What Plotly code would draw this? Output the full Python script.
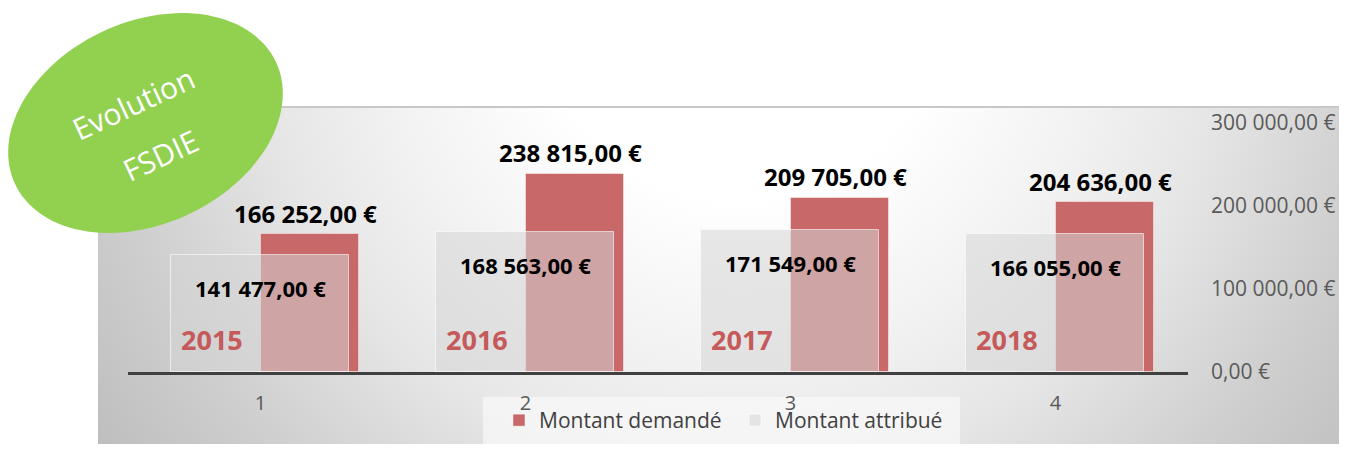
import numpy as np
import plotly.graph_objects as go

# la page ajoute 8 px de marge autour du graphique : on travaille en pixels
# "écran" (0..1347 x 0..452) et on convertit
OFF = 8
W, H = 1347 - 2 * OFF, 452 - 2 * OFF

# données
categories = [1, 2, 3, 4]
annees = ["2015", "2016", "2017", "2018"]
montant_demande = [166252, 238815, 209705, 204636]
montant_attribue = [141477, 168563, 171549, 166055]
y_ticks = [0, 100000, 200000, 300000]
y_ticktext = ["0,00 €", "100 000,00 €", "200 000,00 €", "300 000,00 €"]

ROUGE = "#c86868"
GRIS = "rgba(213,213,213,0.55)"
POLICE = "Open Sans"


def euro(v: float) -> str:
    s = f"{v:,.2f}".replace(",", " ").replace(".", ",")
    return s + " €"


def px_x(p):  # pixel écran -> fraction papier
    return (p - OFF) / W


def px_y(p):
    return 1 - (p - OFF) / H


def rect(x0, y0, x1, y1, **kw):
    return go.Scatter(x=[x0, x1, x1, x0, x0], y=[y0, y0, y1, y1, y0],
                      mode="lines", fill="toself", line=dict(width=0),
                      hoverinfo="skip", showlegend=False,
                      xaxis="x", yaxis="y", **kw)


fig = go.Figure()

# fond dégradé radial centré en haut du cadre, puis masques blancs
fig.add_trace(rect(-60, -800, 1540, 800, fillgradient=dict(type="radial", colorscale=[
    [0.0, "#ffffff"], [0.25, "#ffffff"], [0.45, "#f2f2f2"], [0.6, "#e6e6e6"],
    [0.8, "#cfcfcf"], [1.0, "#bcbcbc"]])))
fig.add_trace(rect(0, 0, 1347, 106, fillcolor="white"))
fig.add_trace(rect(0, 0, 98, 452, fillcolor="white"))
fig.add_trace(go.Scatter(
    x=[98, 1347], y=[107, 107], mode="lines",
    line=dict(color="#c8c8c8", width=2),
    hoverinfo="skip", showlegend=False, xaxis="x", yaxis="y"))
# cadre de la légende
fig.add_trace(rect(483, 397, 960, 444, fillcolor="rgba(250,250,250,0.7)"))

# barres
fig.add_trace(go.Bar(
    x=categories, y=montant_demande, name="Montant demandé",
    width=0.37, offset=0.0,
    marker=dict(color=ROUGE, line=dict(color="rgba(255,255,255,0.45)", width=1)),
    xaxis="x2", yaxis="y2"))
fig.add_trace(go.Bar(
    x=categories, y=montant_attribue, name="Montant attribué",
    width=0.669, offset=-0.336,
    marker=dict(color=GRIS, line=dict(color="rgba(255,255,255,0.6)", width=1)),
    xaxis="x2", yaxis="y2"))

# étiquettes de valeurs
for c, v in zip(categories, montant_demande):
    fig.add_annotation(x=c + 0.17, y=v, xref="x2", yref="y2", text=euro(v),
                       showarrow=False, yanchor="middle", yshift=21,
                       font=dict(family=POLICE, size=24, color="black", weight="bold"))
for c, v in zip(categories, montant_attribue):
    fig.add_annotation(x=c, y=v, xref="x2", yref="y2", text=euro(v),
                       showarrow=False, yanchor="middle", yshift=-33,
                       font=dict(family=POLICE, size=22, color="black", weight="bold"))
for c, a in zip(categories, annees):
    fig.add_annotation(x=c, y=0, xref="x2", yref="y2", text=a,
                       showarrow=False, yanchor="middle", xshift=-49, yshift=33,
                       font=dict(family=POLICE, size=27, color="#c55a5a", weight="bold"))

# ellipse verte "Evolution FSDIE"
cx, cy, a, b, th = 145.5, 123, 144, 101, np.radians(25)
t = np.linspace(0, 2 * np.pi, 120)
ex = cx + a * np.cos(t) * np.cos(th) - b * np.sin(t) * np.sin(th)
ey = cy - (a * np.cos(t) * np.sin(th) + b * np.sin(t) * np.cos(th))
path = "M " + " L ".join(f"{x:.1f},{y:.1f}" for x, y in zip(ex, ey)) + " Z"
fig.add_shape(type="path", path=path, xref="x", yref="y",
              fillcolor="#92d050", line=dict(width=0), layer="above")
fig.add_annotation(x=133, y=103, xref="x", yref="y", text="Evolution",
                   showarrow=False, textangle=-25,
                   font=dict(family=POLICE, size=30, color="white"))
fig.add_annotation(x=160, y=155, xref="x", yref="y", text="FSDIE",
                   showarrow=False, textangle=-25,
                   font=dict(family=POLICE, size=30, color="white"))

fig.update_layout(
    width=W, height=H,
    margin=dict(l=0, r=0, t=0, b=0, autoexpand=False),
    paper_bgcolor="white", plot_bgcolor="rgba(0,0,0,0)",
    barmode="overlay", bargap=0,
    font=dict(family=POLICE, color="#595959"),
    xaxis=dict(domain=[0, 1], range=[OFF, OFF + W], visible=False, fixedrange=True),
    yaxis=dict(domain=[0, 1], range=[OFF + H, OFF], visible=False, fixedrange=True),
    xaxis2=dict(domain=[px_x(128), px_x(1188)], anchor="y2", range=[0.5, 4.5],
                tickvals=categories, ticktext=[str(c) for c in categories],
                showgrid=False, zeroline=False, showline=True,
                linecolor="#404040", linewidth=3, ticks="", automargin=False,
                ticklabelstandoff=11, tickfont=dict(size=20, color="#595959")),
    yaxis2=dict(domain=[px_y(372), px_y(123)], anchor="x2", side="right",
                range=[0, 300000], tickvals=y_ticks, ticktext=y_ticktext,
                showgrid=False, zeroline=False, showline=False, ticks="",
                automargin=False,
                ticklabelstandoff=22, tickfont=dict(size=21, color="#595959")),
    legend=dict(orientation="h", x=px_x(499), y=px_y(400),
                xanchor="left", yanchor="top",
                bgcolor="rgba(0,0,0,0)", entrywidth=191,
                font=dict(size=21, color="#404040"),
                itemwidth=30),
    showlegend=True,
)

fig.write_html("out.html")
